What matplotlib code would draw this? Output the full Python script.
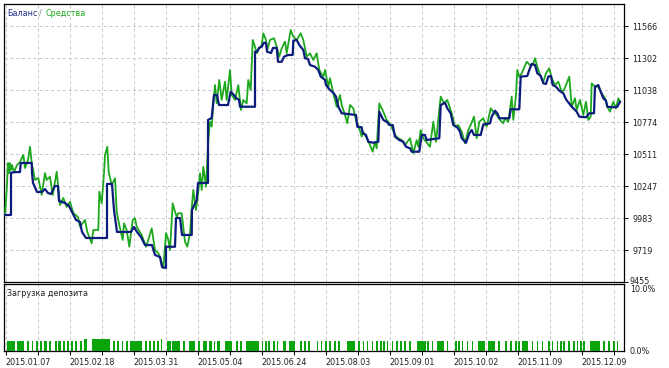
import matplotlib
matplotlib.use("Agg")
import matplotlib.pyplot as plt
from matplotlib.transforms import Bbox

# balance curve (deal index, account balance)
bal_x = [1, 7, 7, 12, 16, 16.7, 27.7, 28, 29, 33, 38, 41, 44, 47, 51, 54, 55, 61, 65, 68,
         72, 76, 78, 82, 103, 103, 108, 110, 113, 127, 130, 133, 137, 141, 148, 151, 156, 158,
         162, 162, 171, 172, 176, 178, 187.7, 188, 192.7, 194, 204, 204, 207.7, 208.7, 210,
         213, 215, 224, 226.7, 230, 232, 235, 236, 251, 251, 253, 255, 257.7, 260, 262, 263,
         267, 269, 272.7, 274, 277.7, 280, 284, 288.7, 289.3, 292.7, 295.3, 299.3, 301, 304,
         306, 311, 314.3, 316.7, 321, 322, 326, 329.3, 332, 334.3, 337.7, 352, 353.3, 357.7,
         358.7, 362, 364.3, 369.3, 374.3, 375.3, 379.3, 382.7, 385.3, 388.7, 391, 395.3, 399.3,
         402, 406, 407.7, 415.3, 417.7, 421, 422.7, 427, 435.3, 436.7, 441, 443.3, 446.7,
         449.3, 453.3, 456, 457.7, 462, 465.3, 467.7, 470, 476.7, 479.3, 486, 487.7, 491,
         493.3, 495.3, 505.3, 506.7, 515.3, 516.7, 523.3, 525.3, 527.7, 531, 533.3, 536.7,
         539.3, 542, 544.3, 547, 548.7, 552, 555.3, 559.3, 562, 567.7, 572.7, 575.3, 582,
         585.3, 590, 591, 594.3, 596.7, 599.3, 602, 603.3, 611, 613.3, 616]
bal_y = [10008, 10008, 10357, 10362, 10362, 10437, 10437, 10354, 10272, 10198, 10198, 10222,
         10189, 10181, 10247, 10247, 10123, 10107, 10082, 10033, 9967, 9950, 9868, 9818, 9818,
         10264, 10264, 10049, 9868, 9868, 9909, 9868, 9826, 9760, 9760, 9678, 9661, 9579, 9571,
         9746, 9746, 9983, 9983, 9843, 9843, 10049, 10132, 10272, 10272, 10792, 10808, 10891,
         10998, 10998, 10915, 10915, 11025, 10998, 10973, 10957, 10901, 10901, 11355, 11355,
         11386, 11396, 11429, 11427, 11355, 11344, 11386, 11386, 11272, 11272, 11314, 11328,
         11328, 11446, 11452, 11410, 11369, 11301, 11295, 11245, 11231, 11204, 11150, 11122,
         11080, 11039, 11017, 10984, 10901, 10847, 10833, 10736, 10731, 10682, 10668, 10612,
         10604, 10612, 10860, 10792, 10777, 10750, 10750, 10654, 10626, 10612, 10571, 10558,
         10530, 10530, 10668, 10668, 10626, 10632, 10641, 10915, 10934, 10888, 10847, 10750,
         10731, 10695, 10641, 10604, 10682, 10709, 10668, 10668, 10754, 10764, 10819, 10868,
         10847, 10806, 10806, 10880, 10880, 11149, 11155, 11204, 11254, 11245, 11177, 11155,
         11094, 11089, 11149, 11155, 11080, 11066, 11033, 11012, 10962, 10901, 10860, 10819,
         10814, 10847, 10847, 11066, 11080, 11025, 10971, 10951, 10901, 10896, 10901, 10942]

# equity curve
eq_x = [1, 2.7, 4, 5, 6, 7, 8, 10, 13, 16, 19.3, 21, 24, 26, 27.7, 31, 34.3, 37.7, 41, 42.7,
        46, 48.7, 52.7, 56, 59.3, 62.7, 66, 69.3, 74, 76, 81, 83.3, 87.7, 89.3, 94.3, 95.3,
        97.7, 100, 101, 103.3, 104.7, 107.7, 111, 112.7, 115.3, 118.7, 120, 122.7, 125.3,
        128.7, 131, 132.7, 137.7, 142, 144.3, 147.7, 151, 154.3, 156, 159.3, 162, 164.3, 166,
        168.7, 171, 172.7, 174.3, 177.7, 179.3, 181, 183.3, 186, 187.7, 189.3, 192, 194.3,
        196, 197.7, 199.3, 202, 204.3, 206, 207.7, 209.3, 211, 212.7, 215.3, 217.7, 221,
        222.7, 226, 227.7, 231, 234.3, 237, 239.3, 242.7, 244.3, 246.7, 248.7, 251, 252.7,
        255.3, 257.7, 259.3, 262, 263.3, 266, 270, 272.7, 275.3, 277.7, 281, 282.7, 286.7,
        289.3, 292.7, 296.7, 299.3, 302.7, 306, 309.3, 312.7, 315.3, 319.3, 321, 324.3, 326,
        329.3, 332.7, 336, 337.7, 341, 343.3, 346, 349.3, 352, 355.3, 357.7, 359.3, 362.7,
        366, 368.7, 371, 372.7, 375.3, 379.3, 382.7, 386.7, 391, 394.3, 397.7, 401, 406,
        409.3, 412.7, 414.3, 416.7, 419.3, 423.3, 426, 429.3, 432, 434.3, 436.7, 440, 443.3,
        447.7, 451, 454.3, 457.7, 461, 464.3, 466.7, 470, 472.7, 475.3, 479.3, 482.7, 486.7,
        489.3, 492.7, 496, 499.3, 501, 504.3, 507.7, 509.3, 512, 513.3, 515.3, 517.7, 522.7,
        526, 528.7, 531, 533.3, 536.7, 539.3, 542, 545.3, 547.7, 551, 554.3, 557.7, 560,
        565.3, 567.7, 571, 572.7, 576, 579.3, 582, 584.3, 586.7, 587.7, 591, 594.3, 597.7,
        601, 603.3, 606, 609.3, 612, 614.3, 616]
eq_y = [10008, 10214, 10437, 10354, 10437, 10379, 10420, 10362, 10420, 10445, 10503, 10395,
        10461, 10571, 10437, 10297, 10313, 10173, 10354, 10297, 10324, 10173, 10365, 10090,
        10148, 10074, 10117, 10024, 9991, 9911, 9967, 9868, 9774, 9884, 9884, 10200, 10104,
        10352, 10503, 10571, 10365, 10255, 10311, 10035, 9925, 9802, 9939, 9884, 9746, 9967,
        9981, 9911, 9843, 9746, 9802, 9898, 9719, 9692, 9664, 9568, 9859, 9802, 9719, 10104,
        10035, 9994, 10022, 10022, 9911, 9787, 9746, 9857, 10063, 10214, 10049, 10200, 10352,
        10214, 10406, 10241, 10627, 10777, 10737, 10929, 11080, 10929, 11122, 10957, 11107,
        10957, 11204, 10998, 10957, 11080, 10874, 10957, 10929, 11122, 11039, 11452, 11396,
        11342, 11383, 11410, 11507, 11452, 11369, 11452, 11466, 11396, 11314, 11383, 11438,
        11342, 11534, 11479, 11452, 11507, 11452, 11314, 11342, 11287, 11342, 11204, 11149,
        11204, 11066, 11136, 11012, 10901, 10998, 10915, 10833, 10764, 10915, 10888, 10792,
        10723, 10654, 10695, 10641, 10585, 10530, 10612, 10558, 10929, 10860, 10792, 10750,
        10668, 10641, 10626, 10585, 10641, 10517, 10626, 10571, 10709, 10641, 10599, 10571,
        10777, 10612, 10792, 10984, 10929, 10957, 10847, 10737, 10750, 10695, 10599, 10709,
        10750, 10819, 10641, 10777, 10806, 10737, 10888, 10860, 10833, 10792, 10764, 10806,
        10777, 10984, 10792, 10998, 11204, 11149, 11177, 11272, 11245, 11245, 11301, 11231,
        11149, 11107, 11177, 11218, 11136, 11080, 11107, 11025, 11039, 11149, 10901, 10971,
        10874, 10957, 10833, 10942, 10792, 10819, 11094, 11066, 11066, 11012, 10971, 10901,
        10860, 10942, 10888, 10971, 10942]

# deposit load (open index, close index, percent)
load_open = [2.7, 13.3, 22.7, 27.7, 32, 36, 40.3, 45.3, 51, 54.3, 59.3, 62.7, 66.7, 71, 76, 80,
             87.7, 108.7, 113.3, 117.7, 122, 126, 141, 145.3, 149.3, 152.7, 156.7, 162.7,
             168.3, 179.3, 185.3, 194.3, 199.3, 204.5, 209.5, 213.3, 221, 232, 236, 242,
             257.7, 261, 264.3, 269.3, 272.7, 279.3, 285.3, 296, 300, 304.3, 312.7, 316.7,
             321, 325, 330, 334.3, 342.7, 354.3, 358.7, 362.7, 367.7, 372, 376, 379.3, 382.7,
             387.7, 392, 396, 400, 405.3, 412.7, 423.3, 427.7, 433.3, 442.7, 451, 454.3,
             457.7, 462.7, 467.7, 474.3, 484.3, 494.3, 501, 506, 511, 514.3, 517.7, 527.7,
             532.7, 537.7, 544.3, 547.7, 552.7, 556, 559.3, 564.3, 569.3, 572.7, 576, 579.3,
             586, 599.3, 604.3, 609.3, 612.7]
load_close = [11, 20, 25.3, 29.3, 34.3, 38, 42.7, 47.3, 52.7, 56.7, 61.3, 64.7, 68.7, 73, 77.7,
              82.7, 106, 111, 115.3, 119.3, 123.7, 137.7, 142.7, 147.3, 151, 155.3, 158,
              166.7, 176, 181, 191, 196, 202.7, 207.5, 211, 215.5, 227.7, 233.7, 237.7, 255.3,
              259.3, 262.7, 266, 271, 274.3, 282, 291, 297.7, 301.7, 306, 314.3, 318.3, 322.7,
              326.7, 331.7, 336, 351, 356, 360.3, 364.3, 369.3, 373.7, 377.7, 381, 384.3,
              389.3, 393.7, 397.7, 401.7, 407, 422, 425.3, 429.3, 440, 444.3, 452.7, 456,
              459.3, 464.3, 469.3, 481, 491, 496, 502.7, 507.7, 512.7, 516, 524.3, 529.3,
              534.3, 539.3, 546, 549.3, 554.3, 557.7, 561, 566, 571, 574.3, 577.7, 581, 596,
              601, 606, 611, 614.3]
load_pct = [1.5] * len(load_open)
for i in (15, 16, 26):
    load_pct[i] = 1.8

bal_ticks = [9455, 9719, 9983, 10247, 10511, 10774, 11038, 11302, 11566]
date_labels = ["2015.01.07", "2015.02.18", "2015.03.31", "2015.05.04", "2015.06.24",
               "2015.08.03", "2015.09.01", "2015.10.02", "2015.11.09", "2015.12.09"]

W, H = 669, 368
fig = plt.figure(figsize=(W / 100, H / 100), dpi=100)
fig.patch.set_facecolor("white")
plt.rcParams["font.family"] = "DejaVu Sans"
fs = 5.8

ax = fig.add_axes([4 / W, (H - 282) / H, 620 / W, 278 / H])
ax2 = fig.add_axes([4 / W, (H - 351) / H, 620 / W, 67 / H], sharex=ax)

ax.plot(eq_x, eq_y, color="#1ea81e", lw=1.3, zorder=3)
ax.plot(bal_x, bal_y, color="#0c1c7c", lw=1.6, zorder=4)
ax.set_ylim(9455, 9455 + 278 * 264 / 32)
ax.set_xlim(0, 620)

widths = [c - o for o, c in zip(load_open, load_close)]
ax2.bar(load_open, load_pct, width=widths, align="edge", color="#0aa50a", zorder=3)
ax2.set_ylim(0, 10)

major = [1.7 + 64 * k for k in range(10)]
minor = [1.7 + 32 * k for k in range(20)]

for a in (ax, ax2):
    for s in a.spines.values():
        s.set_color("black")
        s.set_linewidth(0.9)
    a.set_xticks(minor, minor=True)
    a.grid(True, which="both", axis="x", color="#c4c4cc", ls=(0, (3, 3)), lw=0.7)
    a.set_axisbelow(True)

ax.yaxis.tick_right()
ax.set_yticks(bal_ticks)
ax.set_yticklabels([""] + [str(v) for v in bal_ticks[1:]])
ax.grid(True, axis="y", color="#c4c4cc", ls=(0, (3, 3)), lw=0.7)
ax.tick_params(axis="y", which="major", length=3, width=0.7, pad=3, labelsize=fs,
               labelcolor="#202020")
ax.tick_params(axis="x", which="both", length=0, labelbottom=False)

ax2.yaxis.tick_right()
ax2.set_yticks([])
ax2.set_xticks(major)
ax2.set_xticklabels(date_labels, ha="left")
ax2.tick_params(axis="x", which="both", length=3, width=0.7, pad=2, labelsize=fs,
                labelcolor="#202020")

# clipped 9455 label like the tester chart
t = fig.text(630 / W, (H - 282) / H, "9455", fontsize=fs, color="#202020",
             va="center", ha="left")
t.set_clip_box(Bbox.from_extents(620, H - 283.5, W, H))
t.set_clip_on(True)

fig.text(630 / W, (H - 285) / H, "10.0%", fontsize=fs, color="#202020", va="top")
fig.text(630 / W, (H - 352) / H, "0.0%", fontsize=fs, color="#202020", va="center")

fig.text(7 / W, (H - 13) / H, "Баланс", fontsize=fs, color="#1f2d8a", va="center")
fig.text(39 / W, (H - 13) / H, "/", fontsize=fs, color="#808080", va="center")
fig.text(45 / W, (H - 13) / H, "Средства", fontsize=fs, color="#1ea81e", va="center")
fig.text(7 / W, (H - 293) / H, "Загрузка депозита", fontsize=fs, color="#202020",
         va="center")

fig.savefig("out.png", dpi=100)
